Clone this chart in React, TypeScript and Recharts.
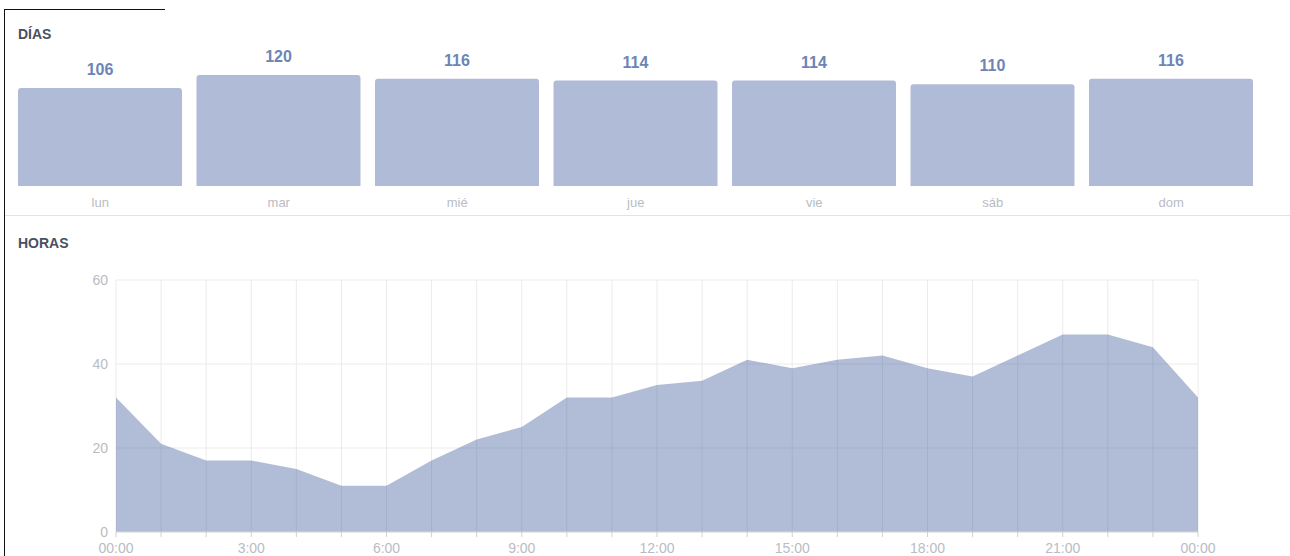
import React from 'react';
import {
  Area,
  AreaChart,
  Bar,
  BarChart,
  CartesianGrid,
  LabelList,
  XAxis,
  YAxis,
} from 'recharts';

const DAYS = ['lun', 'mar', 'mié', 'jue', 'vie', 'sáb', 'dom'];
const DAY_VALUES = [106, 120, 116, 114, 114, 110, 116];

const HOURS = [0, 1, 2, 3, 4, 5, 6, 7, 8, 9, 10, 11, 12, 13, 14, 15, 16, 17, 18, 19, 20, 21, 22, 23, 24];
const HOUR_VALUES = [32, 21, 17, 17, 15, 11, 11, 17, 22, 25, 32, 32, 35, 36, 41, 39, 41, 42, 39, 37, 42, 47, 47, 44, 32];
const HOUR_LABELS = [
  '00:00', '', '', '3:00', '', '', '6:00', '', '', '9:00', '', '', '12:00',
  '', '', '15:00', '', '', '18:00', '', '', '21:00', '', '', '00:00',
];
const Y_TICKS = [0, 20, 40, 60];

const dayData = DAYS.map((day, i) => ({ day, value: DAY_VALUES[i] }));
const hourData = HOURS.map((hour, i) => ({ hour, value: HOUR_VALUES[i] }));

const FONT = '"Liberation Sans", Arial, Helvetica, sans-serif';
const TICK_COLOR = '#b9bcc4';

const titleStyle: React.CSSProperties = {
  position: 'absolute',
  left: 18,
  fontFamily: FONT,
  fontWeight: 'bold',
  fontSize: 14,
  color: '#4b5060',
  lineHeight: '16px',
};

export default function App() {
  return (
    <div
      style={{
        position: 'absolute',
        left: 0,
        top: 0,
        width: 1290,
        height: 556,
        background: '#fff',
        overflow: 'hidden',
        fontFamily: FONT,
      }}
    >
      {/* stray frame from the original screenshot */}
      <div
        style={{
          position: 'absolute',
          left: 4,
          top: 9,
          width: 160,
          height: 600,
          borderTop: '1px solid #111',
          borderLeft: '1px solid #111',
        }}
      />
      <div style={{ ...titleStyle, top: 26 }}>DÍAS</div>
      <div style={{ ...titleStyle, top: 235 }}>HORAS</div>
      <div
        style={{
          position: 'absolute',
          left: 5,
          top: 215,
          width: 1285,
          borderTop: '1px solid #e3e3e3',
        }}
      />

      <div style={{ position: 'absolute', left: 0, top: 0 }}>
        <BarChart
          width={1290}
          height={215}
          data={dayData}
          margin={{ top: 75, right: 29.5, bottom: 0, left: 11 }}
          barSize={164}
        >
          <XAxis
            dataKey="day"
            axisLine={false}
            tickLine={false}
            height={29}
            tickMargin={6}
            tick={{ fill: TICK_COLOR, fontSize: 13, fontFamily: FONT }}
          />
          <YAxis hide domain={[0, 120]} />
          <Bar dataKey="value" fill="#b0bcd7" radius={[3, 3, 0, 0]} isAnimationActive={false}>
            <LabelList
              dataKey="value"
              position="top"
              offset={13}
              fill="#6d84b4"
              fontSize={16}
              fontWeight="bold"
              fontFamily={FONT}
            />
          </Bar>
        </BarChart>
      </div>

      <div style={{ position: 'absolute', left: 0, top: 260 }}>
        <AreaChart
          width={1290}
          height={296}
          data={hourData}
          margin={{ top: 20, right: 92, bottom: 0, left: 76 }}
        >
          <CartesianGrid stroke="#ebebeb" />
          <XAxis
            dataKey="hour"
            type="number"
            domain={[0, 24]}
            ticks={HOURS}
            interval={0}
            height={24}
            tickSize={5}
            tickMargin={6}
            axisLine={{ stroke: '#dddddd' }}
            tickLine={{ stroke: '#d0d0d0' }}
            tickFormatter={(v: number) => HOUR_LABELS[v]}
            tick={{ fill: TICK_COLOR, fontSize: 14, fontFamily: FONT }}
          />
          <YAxis
            type="number"
            domain={[0, 60]}
            ticks={Y_TICKS}
            width={40}
            axisLine={false}
            tickLine={false}
            tick={{ fill: TICK_COLOR, fontSize: 14, fontFamily: FONT }}
          />
          <Area
            type="linear"
            dataKey="value"
            stroke="none"
            fill="#3b5998"
            fillOpacity={0.4}
            isAnimationActive={false}
          />
        </AreaChart>
      </div>
    </div>
  );
}
